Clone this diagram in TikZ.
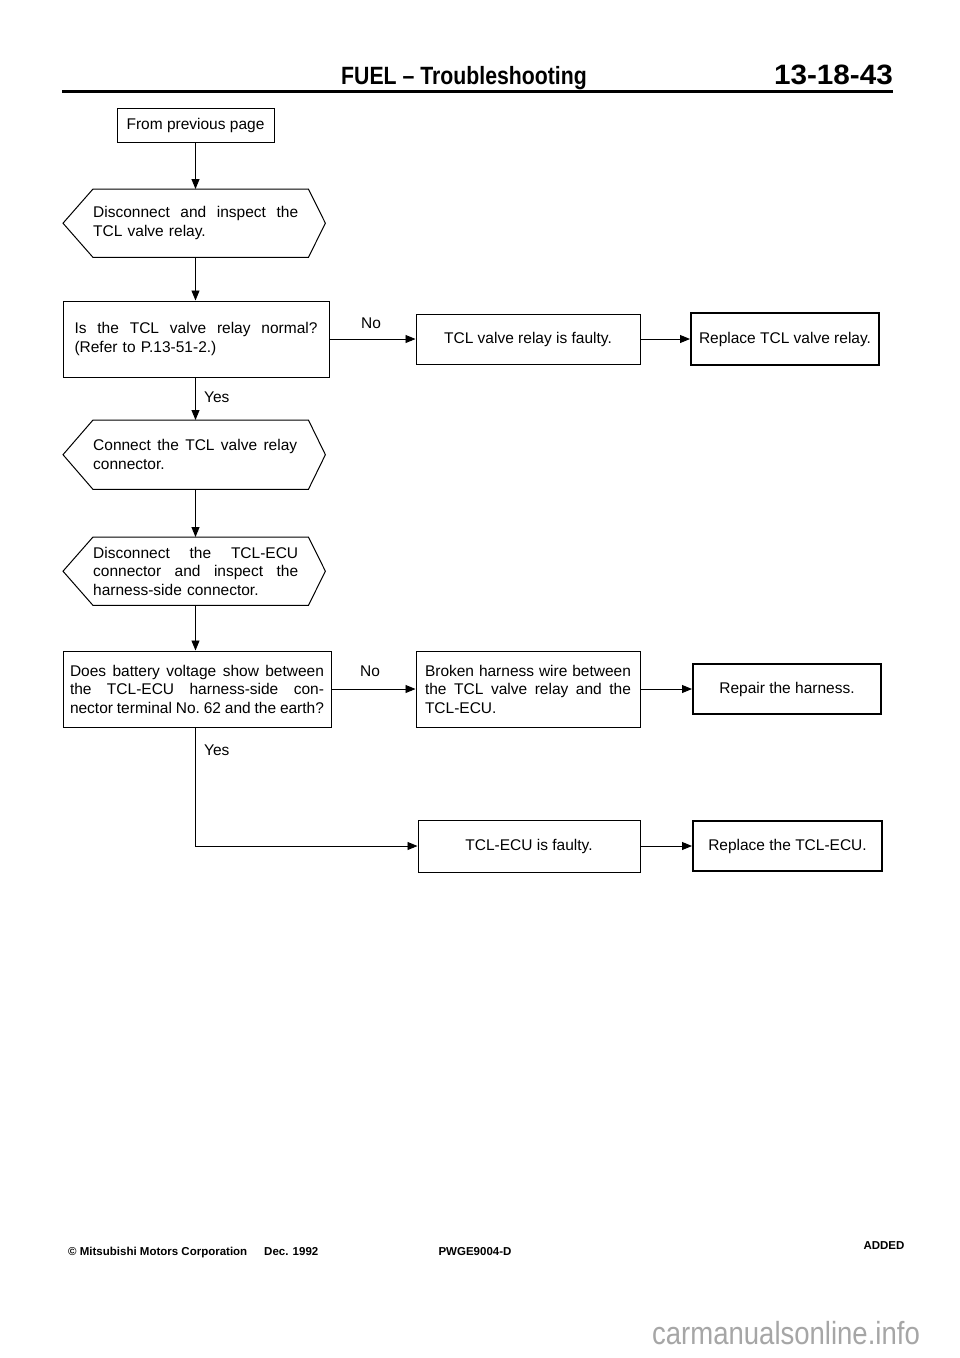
\documentclass[tikz,border=0pt]{standalone}
\usepackage{fontspec}
\setmainfont{Liberation Sans}
\usetikzlibrary{arrows.meta,calc}
\newcommand{\jl}[2]{{\frenchspacing\spaceskip=0.278em plus 1fil minus 0.12em\makebox[#1][s]{#2}}}
\newcommand{\hexo}[1]{\draw[hexline] (#1.north west) -- (#1.north east) -- ($(#1.east)+(17,0)$) -- (#1.south east) -- (#1.south west) -- ($(#1.west)+(-30,0)$) -- cycle;}
\begin{document}
\begin{tikzpicture}[x=1pt,y=-1pt,
  every node/.style={font=\fontsize{15.5}{18.5}\selectfont, inner sep=0pt},
  box/.style={draw, line width=1pt, align=center},
  thickbox/.style={box, line width=2pt},
  hexnode/.style={text width=215pt, minimum height=68pt, align=left, anchor=north west},
  hexline/.style={line width=1pt, line join=miter},
  conn/.style={line width=0.9pt, -{Triangle[length=10pt,width=8pt]}},
  lbl/.style={font=\fontsize{15.5}{18.5}\selectfont},
  foot/.style={font=\fontsize{11.5}{13}\selectfont\bfseries}]
\path[use as bounding box, fill=white] (0,0) rectangle (960,1358);

% header
\node[anchor=base, font=\fontsize{25}{28}\selectfont\bfseries] (title) at (464,84) {\scalebox{0.85}[1]{FUEL -- Troubleshooting}};
\node[anchor=base east, font=\fontsize{28}{30}\selectfont\bfseries] (pageno) at (893,84) {\scalebox{1.06}[1]{13-18-43}};
\draw[line width=3.2pt] (62,91.5) -- (893,91.5);

\coordinate (col) at (195.5,0);

% column 1
\node[box, minimum width=157pt, minimum height=34pt] (from) at (195.5,125) {From previous page};
\node[hexnode] (h1) at (93,189) {\jl{205pt}{Disconnect and inspect the}\\TCL valve relay.};
\hexo{h1}
\node[box, text width=243pt, minimum width=266pt, minimum height=76pt, align=left] (q1) at (196,339)
  {\jl{243pt}{Is the TCL valve relay normal?}\\(Refer to P.13-51-2.)};
\node[lbl, anchor=west] (yes1) at (204,397) {Yes};
\node[hexnode, minimum height=69pt] (h2) at (93,420) {\jl{204pt}{Connect the TCL valve relay}\\connector.};
\hexo{h2}
\node[hexnode] (h3) at (93,537) {\jl{205pt}{Disconnect the TCL-ECU}\\\jl{205pt}{connector and inspect the}\\harness-side connector.};
\hexo{h3}
\node[box, text width=254pt, minimum width=268pt, minimum height=76pt, align=left] (q2) at (197,689)
  {\jl{254pt}{Does battery voltage show between}\\\jl{254pt}{the TCL-ECU harness-side con-}\\\jl{254pt}{nector terminal No. 62 and the earth?}};
\node[lbl, anchor=west] (yes2) at (204,750) {Yes};

% column 2
\node[box, minimum width=224pt, minimum height=50pt] (f1) at (528,339) {TCL valve relay is faulty.};
\node[box, text width=206pt, minimum width=224pt, minimum height=76pt, align=left] (b1) at (528,689)
  {\jl{206pt}{Broken harness wire between}\\\jl{206pt}{the TCL valve relay and the}\\TCL-ECU.};
\node[box, minimum width=222pt, minimum height=52pt] (f2) at (529,846) {TCL-ECU is faulty.};

% column 3
\node[thickbox, minimum width=188pt, minimum height=52pt] (r1) at (785,339) {Replace TCL valve relay.};
\node[thickbox, minimum width=188pt, minimum height=50pt] (r2) at (787,689) {Repair the harness.};
\node[thickbox, minimum width=189pt, minimum height=50pt] (r3) at (787.5,846) {Replace the TCL-ECU.};

% labels No
\node[lbl] (no1) at (371,323) {No};
\node[lbl] (no2) at (370,671) {No};

% connectors
\draw[conn] (col |- from.south) -- (col |- h1.north);
\draw[conn] (col |- h1.south) -- (col |- q1.north);
\draw[conn] (col |- q1.south) -- (col |- h2.north);
\draw[conn] (col |- h2.south) -- (col |- h3.north);
\draw[conn] (col |- h3.south) -- (col |- q2.north);
\draw[conn] (col |- q2.south) |- (f2.west);
\draw[conn] (q1.east) -- (f1.west);
\draw[conn] (f1.east) -- (r1.west);
\draw[conn] (q2.east) -- (b1.west);
\draw[conn] (b1.east) -- (r2.west);
\draw[conn] (f2.east) -- (r3.west);

% footer
\node[foot, anchor=base west] (copy) at (68,1255) {© Mitsubishi Motors Corporation};
\node[foot, anchor=base west] (date) at (264,1255) {Dec. 1992};
\node[foot, anchor=base] (code) at (475,1255) {PWGE9004-D};
\node[foot, anchor=base] (added) at (884,1249) {ADDED};
\node[font=\fontsize{32}{34}\selectfont, text=black!35] (wm) at (786,1333) {\scalebox{0.86}[1]{carmanualsonline.info}};
\end{tikzpicture}
\end{document}
